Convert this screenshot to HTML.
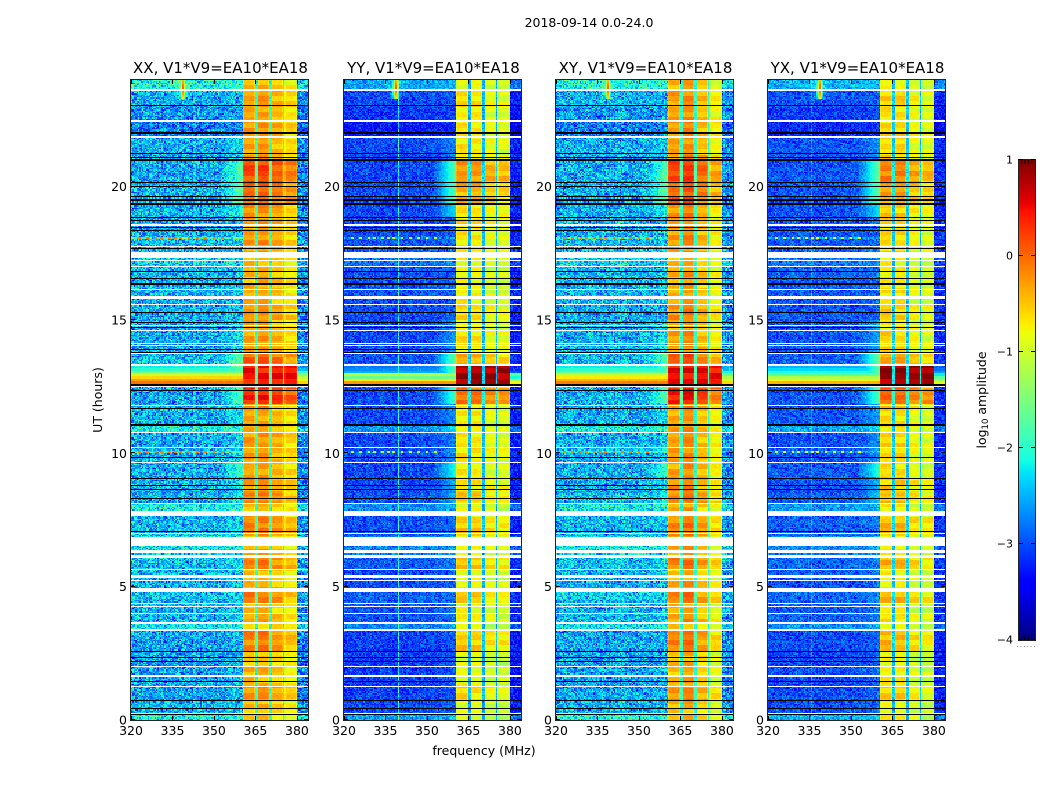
<!DOCTYPE html>
<html lang="en">
<head>
<meta charset="utf-8">
<title>2018-09-14 dynamic spectra</title>
<style>
html,body{margin:0;padding:0;background:#fff;width:1050px;height:800px;overflow:hidden}
#stage{position:relative;width:1050px;height:800px}
#stage canvas{position:absolute;image-rendering:pixelated}
#overlay{position:absolute;left:0;top:0}
#overlay text{font-family:"DejaVu Sans","Liberation Sans",sans-serif;fill:#000}
</style>
</head>
<body>
<div id="stage">
<svg id="overlay" width="1050" height="800" viewBox="0 0 1050 800">
<text x="589" y="27" font-size="12.5" text-anchor="middle">2018-09-14 0.0-24.0</text>
<text transform="translate(102,400) rotate(-90)" font-size="12.5" text-anchor="middle">UT (hours)</text>
<text x="484" y="755" font-size="12.5" text-anchor="middle">frequency (MHz)</text>
<text transform="translate(986,400) rotate(-90)" font-size="12.5" text-anchor="middle">log<tspan dy="2" font-size="8.5">10</tspan><tspan dy="-2"> amplitude</tspan></text>
<g id="panels"></g>
<g id="colorbar"></g>
<line x1="1017" y1="646.5" x2="1035" y2="646.5" stroke="#888" stroke-width="1" stroke-dasharray="1 2.4"/>
</svg>
</div>
<script>
/* ---- chart data ---- */
const panelTitles = ["XX, V1*V9=EA10*EA18","YY, V1*V9=EA10*EA18","XY, V1*V9=EA10*EA18","YX, V1*V9=EA10*EA18"];
const freqTicks = [320,335,350,365,380];
const timeTicks = [0,5,10,15,20];
const colorTicks = [1,0,-1,-2,-3,-4];
const colorMinorTicks = [0.06,0.12,0.18,0.24];

/* log10 amplitude levels per polarisation */
const baseLevels = [-2.55,-3.05,-2.55,-2.98];
const upperEdgeLevels = [-2.7,-3.25,-2.7,-3.2];
const noiseAmps = [0.85,0.55,0.85,0.55];
const subbandStarts = [360.4,365.8,370.8,375.6];
const subbandEnds = [365,370,375,380];
const subbandLevels = [
  [-0.35,-0.3,-0.45,-0.65],
  [-0.72,-0.75,-0.9,-0.95],
  [-0.35,-0.22,-0.5,-0.8],
  [-0.65,-0.65,-0.85,-0.95]
];
const gapLevels = [-2.0,-2.5,-2.0,-2.4];
const hotBandLevels = [0.45,0.8,0.5,0.85];
const shoulderFactors = [0.7,1.1,0.7,1.1];

/* step series against UT hours */
const bandHours = [0,0.7,1.25,2,2.6,3.35,3.65,4,4.35,4.9,5.2,5.65,6.1,6.9,7.6,7.85,8.15,8.5,9.1,9.65,10.2,10.8,11.7,11.85,12.45,13.25,13.75,14.6,15,15.6,16.9,17.55,18.6,18.85,19.4,20.1,21,21.2,21.85,22.5,23,23.6];
const bandShift = [-0.15,0.12,-0.1,-0.15,0.2,-0.2,0.02,-0.12,0.22,-0.05,-0.12,0.22,-0.05,0.2,0,-0.1,0.2,0.1,0,0.05,0.05,0,0.1,0.7,0.35,0.35,0.05,-0.05,0.12,-0.05,-0.1,0.05,0.08,0.1,0.35,0.5,0.1,0.02,0.06,0,0.06,-0.12];
const rowRipple = [0.05,-0.11,0.14,-0.04,0.09,-0.16,0.02,0.12,-0.08,0.17,-0.13,0.06,-0.02,0.1,-0.18,0.07,0.15,-0.06,0.03,-0.12,0.13,-0.09,0.04,0.16,-0.15,0.08,-0.03,0.11,-0.07];
const outHours = [0,0.25,0.7,3.35,3.65,4.35,4.9,5.65,6.1,6.9,7.85,8.15,8.5,10.75,11.05,12.45,13.25,13.75,15.9,17,17.55,18.05,18.15,21.85,22.5,23,23.6];
const outShift = [0.45,0,-0.05,0.3,0.05,0.1,0,0.1,0.3,0.05,0.35,0.05,0,0.4,0,0.1,0.05,0,0.05,0.2,0.05,0.1,0,-0.25,-0.1,0,0.45];
const shoulderHours = [0,8.1,9.1,9.65,11.05,11.85,13.25,13.75,15,18.85,19.4,21,21.85];
const shoulderLift = [0.15,0.5,0.9,0.3,0.35,1.1,1.2,0.4,0.1,0.7,1.2,0.3,0.1];
const hotHours = [0,12.5,12.6,12.7,12.8,12.9,13,13.1,13.2,13.3];
const hotLevels = [
  [-9,0,-0.05,-0.3,-0.6,-1,-1.5,-2,-2.2,-9],
  [-9,-0.1,-0.25,-0.7,-1.6,-1.2,-2.5,-2.7,-2.8,-9],
  [-9,-0.05,-0.1,-0.4,-0.7,-1.1,-1.6,-2,-2.2,-9],
  [-9,-0.2,-0.4,-0.75,-1.2,-1.7,-2.1,-2.3,-2.5,-9]
];

/* interference seen in the spectra */
const columnSpurFreqs = [342.75,339.75,342.75,335.75];
const columnSpurAmps = [0.2,0.95,0.15,0.4];
const spurRowHours = [10.05,18.07];
const spurRowFreqs = [323,326,329,331,334,336,338,341,344,347,350,353];
const spurRowAmps = [1,0.35,1,0.5];
const spikeFreq = 338.75;
const spikeHour = 23.7;

/* flagged time ranges (UT hours): blanks render white, zero-amplitude rows black */
const blankStarts = [0.23,1.24,1.61,1.99,3.32,3.6,3.98,4.24,4.35,4.8,5.21,5.34,5.61,6.09,6.28,6.54,6.98,7.65,8.1,9.62,10.2,10.76,11.78,12.49,13.28,13.73,14.03,14.1,14.59,14.78,15.56,15.79,16.13,16.97,17.21,17.31,17.74,18.54,21.84,22.44,23.59];
const blankEnds = [0.26,1.29,1.67,2.03,3.43,3.66,4.03,4.29,4.39,4.95,5.25,5.42,5.68,6.17,6.38,6.86,7.01,7.84,8.14,9.68,10.24,10.8,11.81,12.53,13.35,13.76,14.06,14.14,14.63,14.81,15.6,15.9,16.16,17.03,17.25,17.55,17.78,18.6,21.9,22.5,23.68];
const blackRowHours = [0.21,0.42,0.73,1.44,2.2,2.35,2.57,7.06,8.31,8.66,8.79,9.06,9.83,11.05,11.69,12.35,12.56,13.77,13.91,14.71,14.89,15.29,16.35,16.54,16.81,17.67,18.35,18.48,18.72,18.83,19.35,19.5,19.62,20.0,20.15,21.0,21.1,21.23,21.98,22.02,23.03];
const thickBlackHours = [11.05,12.56,16.35,21.0];

/* hand-typed speckle texture, standing in for the per-pixel noise */
const speckleA = [0.21,-0.34,0.05,0.42,-0.12,-0.51,0.18,0.33,-0.27,0.09,-0.44,0.38,0.14,-0.08,-0.36,0.29,0.47,-0.19,-0.03,0.24,-0.55,0.11,0.35,-0.22,0.07,-0.41,0.31,0.02,-0.15,0.44,-0.31,0.16,-0.06,0.26,-0.48,0.39,-0.11];
const speckleB = [-0.17,0.28,-0.42,0.06,0.36,-0.09,0.19,-0.33,0.45,-0.24,0.01,0.32,-0.5,0.13,0.23,-0.37,0.08,0.41,-0.14,-0.28,0.34,0.04,-0.46,0.27,-0.02,0.17,-0.39,0.43,-0.2,0.1,0.3,-0.53,0.22,-0.07,0.37,-0.26,0.12,-0.43,0.25,0.03,-0.16];

/* ---- layout ---- */
const panelLefts = [131,344,556,768];
const panelW = 177, panelTop = 80, panelH = 640;
const freqMin = 320, freqMax = 384, timeMax = 24;
const channelWidth = 0.5, rowHours = 0.05;
const cbX = 1019, cbW = 16, cbTop = 160, cbH = 480;
const vMin = -4, vMax = 1;
const NS = "http://www.w3.org/2000/svg";

function xScale(p, f){ return panelLefts[p] + (f - freqMin) / (freqMax - freqMin) * panelW; }
function yScale(h){ return panelTop + (timeMax - h) / timeMax * panelH; }
function cbScale(v){ return cbTop + (vMax - v) / (vMax - vMin) * cbH; }

function jet(t){
  t = Math.max(0, Math.min(1, t));
  const ramp = (pts) => {
    for (let i = 1; i < pts.length; i++) {
      if (t <= pts[i][0]) {
        const a = pts[i-1], b = pts[i];
        return a[1] + (b[1] - a[1]) * (t - a[0]) / (b[0] - a[0]);
      }
    }
    return pts[pts.length-1][1];
  };
  return [
    Math.round(255 * ramp([[0,0],[0.35,0],[0.66,1],[0.89,1],[1,0.5]])),
    Math.round(255 * ramp([[0,0],[0.125,0],[0.375,1],[0.64,1],[0.91,0],[1,0]])),
    Math.round(255 * ramp([[0,0.5],[0.11,1],[0.34,1],[0.65,0],[1,0]]))
  ];
}
function stepAt(hours, vals, h){
  let v = vals[0];
  for (let i = 0; i < hours.length; i++) { if (h >= hours[i]) v = vals[i]; else break; }
  return v;
}

function cellLevel(p, col, row){
  const f = freqMin + (col + 0.5) * channelWidth;
  const h = (row + 0.5) * rowHours;
  const tex = speckleA[(col*col*3 + row*row*5 + col*row + p*5) % speckleA.length] + speckleB[(col*col*7 + row*row*2 + col*row*3 + p*3) % speckleB.length];
  const bShift = stepAt(bandHours, bandShift, h);
  const hot = stepAt(hotHours, hotLevels[p], h);
  let v;
  if (f >= subbandStarts[0] && f <= subbandEnds[3]) {
    let idx = -1;
    for (let i = 0; i < 4; i++) { if (f >= subbandStarts[i] && f <= subbandEnds[i]) idx = i; }
    if (idx < 0) {
      v = gapLevels[p] + bShift * 0.5 + tex * 0.3;
    } else {
      const c = 1 - Math.abs(2 * (f - subbandStarts[idx]) / (subbandEnds[idx] - subbandStarts[idx]) - 1);
      const edge = Math.min(1, c * 4);
      const ripple = rowRipple[(Math.floor(row / 4) + idx * 7 + p * 3) % rowRipple.length];
      v = subbandLevels[p][idx] + bShift + ripple - 0.3 * (1 - edge) + tex * 0.1;
      if (hot > -8 && h >= 12.55) v = hotBandLevels[p] + ripple * 1.2 - 0.2 * (1 - edge) + tex * 0.05;
    }
  } else {
    const isUpper = f > subbandEnds[3];
    v = (isUpper ? upperEdgeLevels[p] : baseLevels[p]) + stepAt(outHours, outShift, h);
    let texAmp = noiseAmps[p];
    if (!isUpper && f > 352) {
      const frac = (f - 352) / 8.4;
      const lift = stepAt(shoulderHours, shoulderLift, h) * shoulderFactors[p] * frac;
      v += lift;
      texAmp = Math.max(0.12, noiseAmps[p] - lift * 0.6);
    }
    v += tex * texAmp;
    if (Math.abs(f - columnSpurFreqs[p]) < 0.1) v += columnSpurAmps[p];
    if (hot > -8) v = Math.max(v, hot + tex * 0.05 + (isUpper ? -0.5 : 0));
    for (const sh of spurRowHours) {
      if (Math.abs(h - sh) < rowHours * 0.6 && !isUpper) {
        v += 0.5 * spurRowAmps[p];
        for (const sf of spurRowFreqs) {
          if (Math.abs(f - sf) < 0.3) v = Math.max(v, -0.1 - (1 - spurRowAmps[p]) * 1.5);
        }
      }
    }
  }
  if (h > 23.3) {
    const df = Math.abs(f - spikeFreq);
    if (df < 4) v += 0.35 * (1 - df / 4);
    v = Math.max(v, 0.1 - 1.8 * df - 2 * Math.abs(h - spikeHour));
  }
  return v;
}

function pixelFlag(h){
  for (let i = 0; i < blankStarts.length; i++) { if (h >= blankStarts[i] && h <= blankEnds[i]) return 1; }
  for (const b of blackRowHours) { if (Math.abs(h - b) < 0.019) return 2; }
  for (const b of thickBlackHours) { if (Math.abs(h - b) < 0.038) return 2; }
  return 0;
}

const stage = document.getElementById("stage");
const overlay = document.getElementById("overlay");

panelTitles.forEach((title, p) => {
  const cv = document.createElement("canvas");
  cv.width = panelW;
  cv.height = panelH;
  cv.style.left = panelLefts[p] + "px";
  cv.style.top = panelTop + "px";
  
  
  stage.insertBefore(cv, overlay);
  const ctx = cv.getContext("2d");
  const img = ctx.createImageData(panelW, panelH);
  const cache = new Map();
  for (let py = 0; py < panelH; py++) {
    const h = timeMax - (py + 0.5) / panelH * timeMax;
    const flag = pixelFlag(h);
    const row = Math.min(479, Math.floor(h / rowHours));
    for (let px = 0; px < panelW; px++) {
      const o = (py * panelW + px) * 4;
      if (flag === 1) { img.data[o] = 255; img.data[o+1] = 255; img.data[o+2] = 255; img.data[o+3] = 255; continue; }
      if (flag === 2) { img.data[o] = 0; img.data[o+1] = 0; img.data[o+2] = 0; img.data[o+3] = 255; continue; }
      const f = freqMin + (px + 0.5) / panelW * (freqMax - freqMin);
      const col = Math.floor((f - freqMin) / channelWidth);
      const key = row * 1000 + col;
      let v = cache.get(key);
      if (v === undefined) { v = cellLevel(p, col, row); cache.set(key, v); }
      const c = jet((v - vMin) / (vMax - vMin));
      img.data[o] = c[0]; img.data[o+1] = c[1]; img.data[o+2] = c[2]; img.data[o+3] = 255;
    }
  }
  ctx.putImageData(img, 0, 0);

  const g = document.getElementById("panels");
  const frame = document.createElementNS(NS, "rect");
  frame.setAttribute("x", panelLefts[p] - 0.5);
  frame.setAttribute("y", panelTop - 0.5);
  frame.setAttribute("width", panelW + 1);
  frame.setAttribute("height", panelH + 1);
  frame.setAttribute("fill", "none");
  frame.setAttribute("stroke", "#222");
  frame.setAttribute("stroke-width", "1");
  
  
  g.appendChild(frame);

  const t = document.createElementNS(NS, "text");
  t.setAttribute("x", panelLefts[p] + panelW / 2 + 1);
  t.setAttribute("y", 73);
  t.setAttribute("font-size", "15");
  t.setAttribute("text-anchor", "middle");
  t.textContent = title;
  
  
  g.appendChild(t);

  freqTicks.forEach((ft) => {
    const x = Math.round(xScale(p, ft)) + 0.5;
    [[panelTop, panelTop + 4], [panelTop + panelH, panelTop + panelH - 4]].forEach((seg) => {
      const l = document.createElementNS(NS, "line");
      l.setAttribute("x1", x); l.setAttribute("x2", x);
      l.setAttribute("y1", seg[0]); l.setAttribute("y2", seg[1]);
      l.setAttribute("stroke", "#000");
      
      
      g.appendChild(l);
    });
    const lab = document.createElementNS(NS, "text");
    lab.setAttribute("x", xScale(p, ft));
    lab.setAttribute("y", panelTop + panelH + 15);
    lab.setAttribute("font-size", "12.5");
    lab.setAttribute("text-anchor", "middle");
    lab.textContent = String(ft);
    
    
    g.appendChild(lab);
  });
  timeTicks.forEach((tt) => {
    const y = Math.round(yScale(tt)) - 0.5;
    [[panelLefts[p], panelLefts[p] + 4], [panelLefts[p] + panelW, panelLefts[p] + panelW - 4]].forEach((seg) => {
      const l = document.createElementNS(NS, "line");
      l.setAttribute("x1", seg[0]); l.setAttribute("x2", seg[1]);
      l.setAttribute("y1", y); l.setAttribute("y2", y);
      l.setAttribute("stroke", "#000");
      
      
      g.appendChild(l);
    });
    const lab = document.createElementNS(NS, "text");
    lab.setAttribute("x", panelLefts[p] - 4);
    lab.setAttribute("y", yScale(tt) + 4.5);
    lab.setAttribute("font-size", "12.5");
    lab.setAttribute("text-anchor", "end");
    lab.textContent = String(tt);
    
    
    g.appendChild(lab);
  });
});

/* colorbar */
const cbGroup = document.getElementById("colorbar");
for (let i = 0; i < cbH; i++) {
  const v = vMax - (i + 0.5) / cbH * (vMax - vMin);
  const c = jet((v - vMin) / (vMax - vMin));
  const r = document.createElementNS(NS, "rect");
  r.setAttribute("x", cbX);
  r.setAttribute("y", cbScale(v) - 0.5);
  r.setAttribute("width", cbW);
  r.setAttribute("height", 1.05);
  r.setAttribute("fill", "rgb(" + c.join(",") + ")");
  
  
  cbGroup.appendChild(r);
}
const cbFrame = document.createElementNS(NS, "rect");
cbFrame.setAttribute("x", cbX - 0.5);
cbFrame.setAttribute("y", cbTop - 0.5);
cbFrame.setAttribute("width", cbW + 1);
cbFrame.setAttribute("height", cbH + 1);
cbFrame.setAttribute("fill", "none");
cbFrame.setAttribute("stroke", "#222");


cbGroup.appendChild(cbFrame);
colorTicks.forEach((ct) => {
  const y = Math.round(cbScale(ct)) - 0.5;
  [[cbX, cbX + 4], [cbX + cbW, cbX + cbW - 4]].forEach((seg) => {
    const l = document.createElementNS(NS, "line");
    l.setAttribute("x1", seg[0]); l.setAttribute("x2", seg[1]);
    l.setAttribute("y1", y); l.setAttribute("y2", y);
    l.setAttribute("stroke", "#000");
    
    
    cbGroup.appendChild(l);
  });
  const lab = document.createElementNS(NS, "text");
  lab.setAttribute("x", cbX - 6);
  lab.setAttribute("y", cbScale(ct) + 3.5);
  lab.setAttribute("font-size", "11");
  lab.setAttribute("text-anchor", "end");
  lab.textContent = ct < 0 ? "\u2212" + Math.abs(ct) : String(ct);
  
  
  cbGroup.appendChild(lab);
});
colorMinorTicks.forEach((m) => {
  const x = cbX + m * 4 * cbW * 0.85 - 0.5;
  [[cbTop, cbTop + 4], [cbTop + cbH, cbTop + cbH - 4]].forEach((seg) => {
    const l = document.createElementNS(NS, "line");
    l.setAttribute("x1", x); l.setAttribute("x2", x);
    l.setAttribute("y1", seg[0]); l.setAttribute("y2", seg[1]);
    l.setAttribute("stroke", "#000");
    
    
    cbGroup.appendChild(l);
  });
});
</script>
</body>
</html>
